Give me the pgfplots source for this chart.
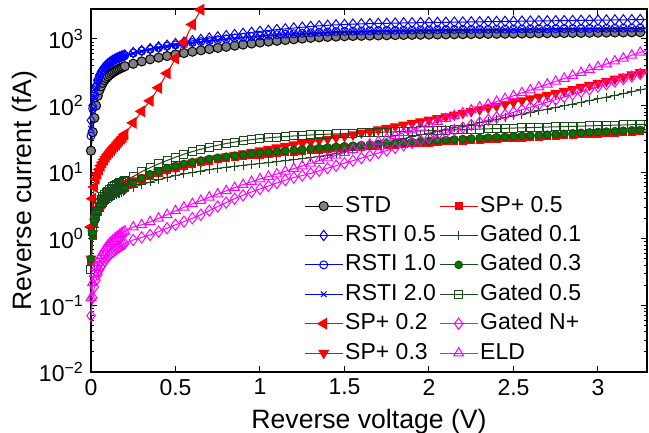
\documentclass[border=0pt]{standalone}
\usepackage{pgfplots}
\pgfplotsset{compat=1.18}
\usepackage{pgfplotstable}
\usepackage{fontspec}
\setmainfont{Liberation Sans}
\definecolor{gdark}{RGB}{25,75,25}
\definecolor{gfill}{RGB}{0,120,0}
\definecolor{stdgray}{RGB}{128,128,128}
\definecolor{mag}{RGB}{255,0,255}
\definecolor{bl}{RGB}{0,0,255}
\definecolor{rd}{RGB}{255,0,0}
\pgfplotstableread{
x std r05 r10 r20 sp02 sp03 sp05 g01 g03 g05 gn eld
0.00 21 60 35 45 1.5 0.5 0.45 0.4 0.5 0.35 0.07 0.13
0.01 40 100 90 88 4 1.2 1.1 1.0 1.2 1.3 0.13 0.22
0.02 65 150 140 137 6 1.8 1.7 1.5 1.8 2.0 0.19 0.30
0.03 100 200 190 186 8 2.3 2.2 1.9 2.3 2.6 0.24 0.37
0.04 140 245 235 230 9.5 2.8 2.55 2.3 2.7 3.1 0.29 0.44
0.05 170 285 275 270 11 3.2 2.95 2.6 3.1 3.5 0.34 0.50
0.06 195 320 310 304 12.5 3.6 3.2 2.9 3.4 3.9 0.38 0.56
0.07 220 350 340 333 14 3.9 3.5 3.1 3.7 4.3 0.42 0.62
0.08 240 378 368 361 15.5 4.2 3.8 3.35 4.0 4.6 0.46 0.68
0.09 258 402 392 384 17 4.5 4.0 3.55 4.2 4.9 0.50 0.74
0.10 274 424 414 406 18.5 4.8 4.2 3.75 4.4 5.2 0.54 0.80
0.11 289 444 434 425 20 5.0 4.35 3.95 4.6 5.5 0.57 0.85
0.12 303 462 452 443 21.5 5.2 4.55 4.1 4.8 5.75 0.61 0.90
0.13 316 479 469 460 23 5.4 4.75 4.25 5.0 6.0 0.64 0.95
0.14 328 495 485 475 24.5 5.6 4.95 4.4 5.2 6.25 0.67 1.00
0.15 339 510 500 490 26 5.8 5.1 4.55 5.35 6.5 0.70 1.05
0.16 350 524 514 504 28 6.0 5.2 4.7 5.5 6.7 0.73 1.10
0.17 360 537 527 516 30 6.2 5.35 4.85 5.65 6.9 0.76 1.15
0.18 370 550 540 529 32 6.4 5.5 5.0 5.8 7.1 0.79 1.20
0.19 380 562 552 541 34 6.6 5.65 5.15 5.95 7.3 0.82 1.25
0.20 390 573 563 552 37 6.8 5.8 5.3 6.1 7.5 0.85 1.30
0.25 425 625 615 603 55 7.5 6.65 5.9 7.0 8.6 0.96 1.5
0.30 460 670 660 647 82 8.3 7.7 6.5 8.1 10.2 1.05 1.62
0.35 495 715 700 686 118 9.2 8.85 7.1 9.3 11.7 1.14 1.8
0.40 525 760 740 725 185 10.0 9.9 7.7 10.4 13.3 1.28 2.03
0.45 555 805 780 764 305 10.9 10.8 8.3 11.4 15.0 1.44 2.3
0.50 585 850 815 799 510 11.8 11.8 8.9 12.4 16.8 1.62 2.62
0.55 615 895 850 833 900 12.7 12.6 9.4 13.3 18.6 1.81 2.97
0.60 645 940 885 867 1650 13.6 13.5 9.9 14.2 20.4 2.03 3.35
0.65 675 985 915 897 2750 14.5 14.25 10.4 15.0 22.1 2.3 3.75
0.70 705 1030 945 926 nan 15.4 15.0 10.9 15.8 23.8 2.65 4.2
0.75 735 1075 975 956 nan 16.3 15.7 11.4 16.5 25.4 3.05 4.7
0.80 765 1120 1005 985 nan 17.2 16.2 11.9 17.1 26.9 3.5 5.25
0.85 795 1165 1035 1014 nan 18.1 16.8 12.3 17.7 28.3 4.0 5.85
0.90 825 1210 1060 1039 nan 19.1 17.4 12.7 18.3 29.6 4.5 6.5
0.95 855 1255 1085 1063 nan 20.1 18.0 13.1 18.9 30.8 5.05 7.2
1.00 885 1300 1110 1088 nan 21.2 18.4 13.5 19.4 31.9 5.6 7.9
1.05 915 1340 1135 1112 nan 22.3 18.9 13.9 19.9 32.8 6.2 8.6
1.10 940 1380 1160 1137 nan 23.4 19.4 14.4 20.4 33.6 6.9 9.4
1.15 965 1420 1180 1156 nan 24.6 19.9 14.9 20.9 34.3 7.6 10.3
1.20 990 1460 1200 1176 nan 25.9 20.3 15.4 21.4 35.0 8.3 11.3
1.25 1015 1500 1220 1196 nan 27.2 20.8 16.0 21.9 35.6 8.9 12.4
1.30 1040 1540 1240 1215 nan 28.6 21.4 16.6 22.5 36.2 9.6 13.6
1.35 1060 1575 1260 1235 nan 30.0 21.85 17.3 23.0 36.7 10.5 14.9
1.40 1075 1605 1275 1250 nan 31.5 22.3 18.1 23.5 37.2 11.5 16.3
1.45 1088 1630 1290 1264 nan 33.1 22.8 19.0 24.0 37.6 12.5 17.9
1.50 1100 1650 1300 1274 nan 34.8 23.3 20.2 24.5 38.0 13.7 19.7
1.55 1110 1668 1310 1284 nan 36.6 23.75 21.5 25.0 38.4 14.9 21.7
1.60 1118 1684 1320 1294 nan 39 24.2 23.0 25.5 38.8 16.3 23.9
1.65 1125 1698 1328 1301 nan 41 24.7 24.6 26.0 39.2 17.8 26.3
1.70 1132 1710 1336 1309 nan 43.5 25.2 26.3 26.5 39.6 19.4 29.0
1.75 1138 1720 1344 1317 nan 46 25.65 28.1 27.0 40.0 21.2 32.0
1.80 1144 1730 1350 1323 nan 48.5 26.1 30.0 27.5 40.4 23.2 35.3
1.85 1150 1740 1356 1329 nan 51.5 26.6 32.0 28.0 40.8 25.3 38.9
1.90 1155 1750 1362 1335 nan 54.5 27.1 34.0 28.5 41.2 27.6 42.9
1.95 1160 1758 1368 1341 nan 57.5 27.55 36.2 29.0 41.6 30.2 47.3
2.00 1165 1766 1373 1346 nan 61 28.0 38.5 29.5 42.0 32.9 52.2
2.05 1169 1774 1377 1349 nan 64.5 28.5 41.0 30.0 42.4 36.0 57.6
2.10 1173 1781 1380 1352 nan 68.5 29.0 43.5 30.5 42.8 39.3 63.6
2.15 1177 1789 1384 1356 nan 72.5 29.45 46.2 31.0 43.2 42.9 70.2
2.20 1181 1796 1387 1359 nan 77 29.9 49.0 31.5 43.6 46.8 77.5
2.25 1185 1804 1391 1363 nan 82 30.4 52.0 32.0 44.0 51.1 85.6
2.30 1189 1811 1394 1366 nan 87 30.9 55.0 32.5 44.4 55.8 94.5
2.35 1193 1819 1398 1370 nan 92.5 31.35 58.4 33.0 44.8 61.0 104
2.40 1197 1826 1401 1373 nan 98.5 31.8 62.0 33.5 45.2 66.6 115
2.45 1201 1834 1405 1377 nan 105 32.3 66.0 34.0 45.6 72.7 127
2.50 1205 1841 1408 1380 nan 112 32.8 70.0 34.5 46.0 79.4 140
2.55 1209 1849 1412 1384 nan 119 33.25 74.2 35.0 46.4 86.7 155
2.60 1213 1856 1415 1387 nan 127 33.7 78.5 35.5 46.8 94.7 171
2.65 1217 1864 1419 1391 nan 135 34.2 83.4 36.0 47.2 103 189
2.70 1221 1871 1422 1394 nan 144 34.8 88.5 36.6 47.6 113 209
2.75 1225 1879 1426 1397 nan 154 35.3 93.8 37.2 48.0 123 231
2.80 1229 1886 1429 1400 nan 165 35.9 99.5 37.8 48.4 135 255
2.85 1233 1894 1433 1404 nan 176 36.5 105.6 38.4 48.8 147 282
2.90 1237 1901 1436 1407 nan 189 37.05 112 39.0 49.2 161 312
2.95 1241 1909 1440 1411 nan 203 37.6 119 39.6 49.6 175 345
3.00 1245 1916 1443 1414 nan 218 38.2 126 40.2 50.0 192 381
3.05 1249 1924 1447 1418 nan 234 38.75 134 40.8 50.4 209 421
3.10 1253 1931 1450 1421 nan 252 39.3 142 41.4 50.8 229 465
3.15 1257 1939 1454 1425 nan 271 39.9 151 42.0 51.2 250 514
3.20 1261 1946 1457 1428 nan 292 40.5 161 42.6 51.6 273 568
3.25 1265 1954 1461 1432 nan 315 41.0 172 43.2 52.0 298 628
3.30 1269 1961 1464 1435 nan 340 41.6 183 43.8 52.4 325 694
}\data
\begin{document}
\begin{tikzpicture}
\begin{axis}[name=ax, scale only axis, width=278pt, height=181.5pt,
  ymode=log, xmin=0, xmax=3.29, ymin=0.01, ymax=2820,
  unbounded coords=jump,
  xtick={0,0.5,1,1.5,2,2.5,3},
  ytick={0.01,0.1,1,10,100,1000},
  yticklabels={10\textsuperscript{−2},10\textsuperscript{−1},10\textsuperscript{0},10\textsuperscript{1},10\textsuperscript{2},10\textsuperscript{3}},
  /pgf/number format/assume math mode=true,
  tick align=inside, major tick length=2.8pt, minor tick length=1.5pt,
  axis line style={line width=0.8pt},
  every tick/.style={black, line width=0.5pt},
  tick label style={font=\fontsize{11.5}{12}\selectfont},
  xlabel={Reverse voltage (V)}, ylabel={Reverse current (fA)},
  label style={font=\fontsize{13.3}{14}\selectfont},
  xlabel style={at={(axis description cs:0.5,0)}, anchor=north, yshift=-15pt},
  ylabel style={at={(axis description cs:-0.12,0.5)}, anchor=center},
  every axis plot/.append style={line width=0.5pt},
  legend transposed=true, legend columns=6,
  legend style={draw=none, fill=none, font=\fontsize{11.5}{12}\selectfont,
    at={(axis description cs:0.372,0.505)}, anchor=north west,
    nodes={inner sep=1pt, text height=8.5pt, text depth=2.5pt}, row sep=1.7pt,
    /tikz/every even column/.append style={column sep=0.6pt}},
  legend cell align=left,
  legend image code/.code={\draw[mark repeat=2,mark phase=2] plot coordinates {(0pt,0pt) (9.5pt,0pt) (19pt,0pt)};},
]
\addplot[black, mark=*, mark size=2.3pt, mark options={fill=stdgray, draw=black}] table[x=x,y=std]{\data};
\addlegendentry{STD}
\addplot[bl, mark=diamond, mark size=2.6pt] table[x=x,y=r05]{\data};
\addlegendentry{RSTI 0.5}
\addplot[bl, mark=o, mark size=2pt] table[x=x,y=r10]{\data};
\addlegendentry{RSTI 1.0}
\addplot[bl, mark=x, mark size=2pt] table[x=x,y=r20]{\data};
\addlegendentry{RSTI 2.0}
\addplot[rd, mark=triangle*, mark size=3pt, mark options={rotate=90, fill=rd}] table[x=x,y=sp02]{\data};
\addlegendentry{SP+ 0.2}
\addplot[rd, mark=triangle*, mark size=2.7pt, mark options={rotate=180, fill=rd}] table[x=x,y=sp03]{\data};
\addlegendentry{SP+ 0.3}
\addplot[rd, mark=square*, mark size=1.8pt, mark options={fill=rd}] table[x=x,y=sp05]{\data};
\addlegendentry{SP+ 0.5}
\addplot[gdark, mark=+, mark size=2.2pt] table[x=x,y=g01]{\data};
\addlegendentry{Gated 0.1}
\addplot[gdark, mark=*, mark size=1.9pt, mark options={fill=gfill, draw=gdark}] table[x=x,y=g03]{\data};
\addlegendentry{Gated 0.3}
\addplot[gdark, mark=square, mark size=2pt] table[x=x,y=g05]{\data};
\addlegendentry{Gated 0.5}
\addplot[mag, mark=diamond, mark size=2.8pt] table[x=x,y=gn]{\data};
\addlegendentry{Gated N+}
\addplot[mag, mark=triangle, mark size=2.8pt] table[x=x,y=eld]{\data};
\addlegendentry{ELD}
\end{axis}
\pgfresetboundingbox
\path[use as bounding box] ([shift={(-45.5pt,-30.5pt)}]ax.south west) rectangle ([shift={(1pt,4.5pt)}]ax.north east);
\end{tikzpicture}
\end{document}
